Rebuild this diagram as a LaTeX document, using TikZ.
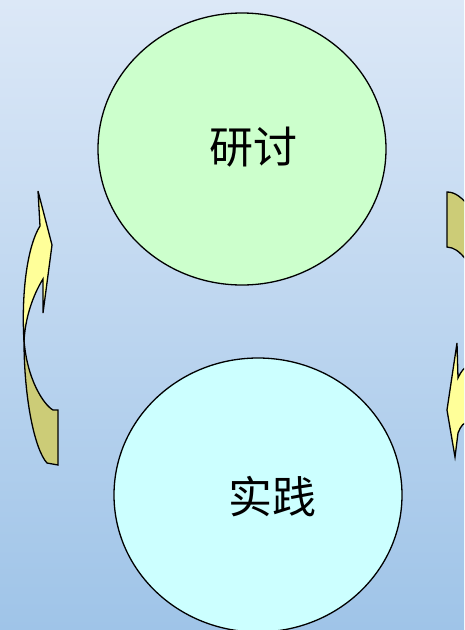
\documentclass[tikz,border=0pt]{standalone}
\usepackage{fontspec}
\newfontfamily\cjk{Noto Sans CJK SC}
\definecolor{bgtop}{HTML}{DCE8F7}
\definecolor{bgbot}{HTML}{9FC4E8}
\definecolor{greenfill}{HTML}{CCFFCC}
\definecolor{cyanfill}{HTML}{CCFFFF}
\definecolor{arrowlight}{HTML}{FFFF99}
\definecolor{arrowdark}{HTML}{CCCC77}
\tikzset{
  bubble/.style={draw=black, line width=1.3pt, ellipse, minimum width=288pt, minimum height=272pt, inner sep=0pt},
  label/.style={font=\cjk\fontsize{44}{44}\selectfont},
  lightpart/.style={fill=arrowlight, draw=black, line width=1.3pt, line join=miter},
  darkpart/.style={fill=arrowdark, draw=black, line width=1.3pt, line join=miter}
}
\usetikzlibrary{shapes.geometric}
\begin{document}
\begin{tikzpicture}[x=1pt,y=-1pt]
\useasboundingbox (0,0) rectangle (464,630);
\clip (0,0) rectangle (464,630);
\shade[top color=bgtop, bottom color=bgbot] (0,0) rectangle (464,630);
% circles
\node[bubble, fill=greenfill] (yantao) at (242,149) {};
\node[label] at (253,147) {研讨};
\node[bubble, fill=cyanfill, minimum height=274pt] (shijian) at (258,495) {};
\node[label] at (272,497) {实践};
% left arrow
\path[darkpart] (24,340) .. controls (24,400) and (35,450) .. (47,463) -- (58,465) -- (58,410) -- (53,410) .. controls (44,405) and (27,380) .. (24,340) -- cycle;
\path[lightpart] (38,191) -- (52,245) -- (43,313) -- (43,279) .. controls (33,295) and (25,318) .. (24,342) .. controls (21,290) and (28,245) .. (40,226) -- cycle;
% right arrow
\path[darkpart] (472,210) .. controls (462,197) and (455,192) .. (447,192) -- (447,247) -- (452,248) .. controls (458,250) and (464,256) .. (472,268) -- cycle;
\path[lightpart] (455,457) -- (447,410) -- (457,343) -- (458,378) .. controls (462,370) .. (472,362) -- (480,362) -- (480,420) -- (472,420) .. controls (462,424) .. (458,433) -- cycle;
\end{tikzpicture}
\end{document}
